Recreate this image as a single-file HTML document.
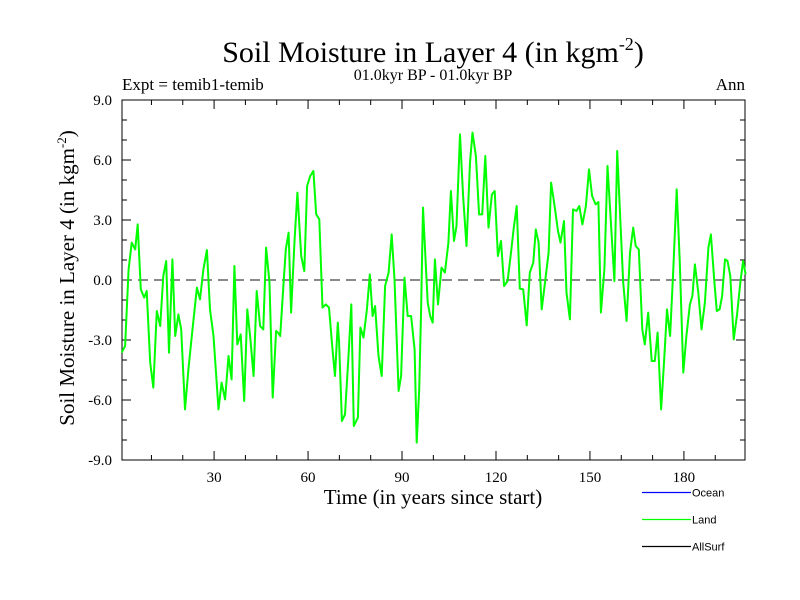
<!DOCTYPE html>
<html><head><meta charset="utf-8"><style>
html,body{margin:0;padding:0;background:#fff;}
svg{display:block;font-family:"Liberation Serif",serif;}
</style></head><body>
<svg id="chart" width="800" height="600" viewBox="0 0 800 600">
<text x="433" y="62" font-size="30" text-anchor="middle">Soil Moisture in Layer 4 (in kgm<tspan font-size="18" dy="-12">-2</tspan><tspan dy="12">)</tspan></text>
<text x="433" y="80" font-size="16" text-anchor="middle">01.0kyr BP - 01.0kyr BP</text>
<text x="122" y="90" font-size="17">Expt = temib1-temib</text>
<text x="745" y="90" font-size="17" text-anchor="end">Ann</text>
<text transform="translate(74,278) rotate(-90)" font-size="21" text-anchor="middle">Soil Moisture in Layer 4 (in kgm<tspan font-size="13" dy="-8">-2</tspan><tspan dy="8">)</tspan></text>
<text x="433" y="504" font-size="21" text-anchor="middle">Time (in years since start)</text>
<g id="axes"></g>
<g id="series"></g>
<g font-family="Liberation Sans, sans-serif" font-size="11">
<g><line x1="642" y1="492.5" x2="691" y2="492.5" stroke="#0000ff" stroke-width="1.3"/><text x="692" y="496.5">Ocean</text></g>
<g><line x1="642" y1="519.5" x2="691" y2="519.5" stroke="#00ff00" stroke-width="1.3"/><text x="692" y="523.5">Land</text></g>
<g><line x1="642" y1="546.5" x2="691" y2="546.5" stroke="#000" stroke-width="1.3"/><text x="692" y="550.5">AllSurf</text></g>
</g>
</svg>
<script>
const years = [0.5,1.6,2.7,3.7,4.8,5.6,6.6,7.7,8.5,9.6,10.6,11.7,12.8,13.8,14.7,15.6,16.7,17.6,18.6,19.5,20.7,21.8,22.9,24.5,25.5,26.6,27.7,28.7,29.8,31.4,32.4,33.5,34.6,35.6,36.5,37.4,38.5,39.6,40.6,41.5,42.6,43.6,44.7,45.7,46.6,47.7,48.7,49.8,
50.4,51.1,52.2,52.9,53.8,54.6,55.7,56.6,57.8,58.8,59.7,60.7,61.7,62.6,63.6,64.6,65.7,66.7,67.8,68.6,69.5,69.9,70.8,71.8,72.9,73.8,74.6,75.9,76.7,77.7,78.8,79.7,80.6,81.4,82.5,83.5,84.6,85.7,86.7,87.6,88.9,89.7,90.8,91.8,92.9,94,94.7,95.5,96.1,96.7,97.4,98.2,
99.0,99.8,100.5,101.5,102.6,103.7,104.8,105.6,106.6,107.4,108.5,109.5,110.6,111.7,112.5,113.6,114.6,115.6,116.6,117.6,118.7,119.6,120.6,121.6,122.6,123.7,124.8,125.7,126.6,127.6,128.7,129.8,130.8,131.9,132.7,133.6,134.6,135.7,136.8,137.6,138.7,139.8,140.6,141.7,142.5,143.6,144.6,145.7,146.6,147.6,148.7,
149.7,150.7,151.8,152.7,153.5,154.6,155.6,156.7,157.8,158.7,159.7,160.6,161.7,162.8,163.8,164.6,165.6,166.7,167.5,168.6,169.7,170.7,171.6,172.7,173.7,174.6,175.6,176.6,177.7,178.7,179.8,180.8,181.9,182.7,183.5,184.6,185.6,186.7,187.8,188.6,189.7,190.5,191.4,192.2,193.1,193.9,194.8,195.9,196.9,198,198.9,199.7];
const landValues = [-3.63,-3.3,0.53,1.87,1.53,2.78,-0.47,-0.88,-0.55,-4.13,-5.38,-1.55,-2.3,0.2,0.95,-3.63,1.03,-2.8,-1.72,-2.47,-6.47,-4.47,-2.8,-0.38,-0.97,0.53,1.5,-1.47,-2.8,-6.47,-5.13,-5.97,-3.8,-4.97,0.7,-3.22,-2.72,-6.05,-1.47,-2.8,-4.8,-0.55,-2.3,-2.47,1.62,-0.13,-5.88,-2.55,
-2.63,-2.8,-0.13,1.53,2.37,-1.63,2.03,4.37,1.2,0.45,4.7,5.2,5.45,3.28,3.03,-1.38,-1.22,-1.38,-3.47,-4.8,-2.13,-3.13,-7.05,-6.72,-3.8,-1.22,-7.3,-6.88,-2.38,-2.88,-1.47,0.28,-1.8,-1.3,-3.8,-4.8,-0.3,0.37,2.28,0.03,-5.55,-4.8,0.12,-1.8,-1.8,-3.47,-8.13,-5.47,-1.47,3.62,1.37,-1.13,
-1.8,-2.13,1.03,-1.22,0.62,0.37,1.87,4.45,1.95,2.7,7.28,4.2,1.7,5.87,7.37,6.2,3.28,3.28,6.2,2.62,4.28,4.45,1.2,1.95,-0.3,-0.05,1.37,2.62,3.7,-0.43,-0.47,-2.27,0.37,0.87,2.53,1.87,-1.47,-0.05,1.37,4.87,3.7,2.45,1.87,2.95,-0.63,-1.97,3.53,3.45,3.7,2.78,3.7,
5.53,4.2,3.78,3.9,-1.63,0.53,5.7,2.87,-0.05,6.45,3.03,-0.13,-2.05,1.37,2.62,1.7,1.53,-2.47,-3.22,-1.63,-4.05,-4.05,-2.63,-6.47,-3.97,-1.47,-2.8,0.53,4.53,0.87,-4.63,-2.8,-1.22,-0.8,0.78,-0.63,-2.47,-1.13,1.62,2.28,-0.05,-1.55,-1.47,-0.8,1.03,0.95,0.2,-2.97,-1.8,-0.13,0.95,0.28];
const yTickValues = [-9,-6,-3,0,3,6,9];
const yTickLabels = ["-9.0","-6.0","-3.0","0.0","3.0","6.0","9.0"];
const xTickValues = [30,60,90,120,150,180];
const xTickLabels = ["30","60","90","120","150","180"];

const L=122,R=745,T=100,B=460;
const xMin=0.6,xMax=199.5,yMin=-9,yMax=9;
const sx=v=>L+(v-xMin)/(xMax-xMin)*(R-L);
const sy=v=>B-(v-yMin)/(yMax-yMin)*(B-T);
const NS="http://www.w3.org/2000/svg";
const axes=document.getElementById('axes');
const series=document.getElementById('series');
function mk(tag,attrs,parent){const e=document.createElementNS(NS,tag);for(const k in attrs)e.setAttribute(k,attrs[k]);parent.appendChild(e);return e;}

const frame=mk('rect',{x:L,y:T,width:R-L,height:B-T,fill:'none',stroke:'#000','stroke-width':1},axes);



for(let v=-9;v<=9;v++){
  const y=sy(v), len=(v%3===0)?9:5;
  const t1=mk('line',{x1:L,y1:y,x2:L+len,y2:y,stroke:'#000','stroke-width':1},axes);
  
  
  const t2=mk('line',{x1:R,y1:y,x2:R-len,y2:y,stroke:'#000','stroke-width':1},axes);
  
  
}
yTickValues.forEach((v,i)=>{
  const t=mk('text',{x:112,y:sy(v)+5,'font-size':15,'text-anchor':'end'},axes);
  t.textContent=yTickLabels[i];
  
  
});
for(let v=10;v<=190;v+=10){
  const x=sx(v), len=(v%30===0)?9:5;
  const t1=mk('line',{x1:x,y1:B,x2:x,y2:B-len,stroke:'#000','stroke-width':1},axes);
  
  
  const t2=mk('line',{x1:x,y1:T,x2:x,y2:T+len,stroke:'#000','stroke-width':1},axes);
  
  
}
xTickValues.forEach((v,i)=>{
  const t=mk('text',{x:sx(v),y:482,'font-size':15,'text-anchor':'middle'},axes);
  t.textContent=xTickLabels[i];
  
  
});
const zl=mk('line',{x1:L,y1:sy(0),x2:R,y2:sy(0),stroke:'#444','stroke-width':1.2,'stroke-dasharray':'10,6'},axes);



const pts=years.map((x,i)=>sx(x).toFixed(1)+','+sy(landValues[i]).toFixed(1)).join(' ');
const line=mk('polyline',{points:pts,fill:'none',stroke:'#00ff00','stroke-width':2,'stroke-linejoin':'round'},series);


</script>
</body></html>
